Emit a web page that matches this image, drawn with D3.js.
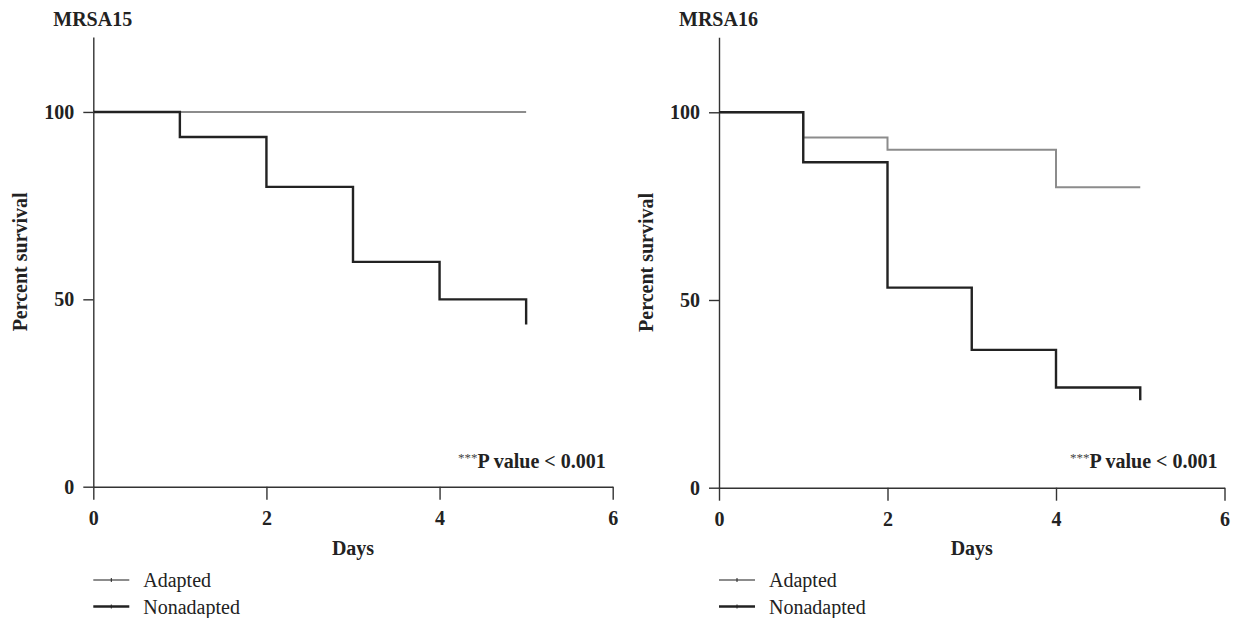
<!DOCTYPE html>
<html>
<head>
<title>Percent survival - MRSA15 / MRSA16</title>
<style>
body { margin: 0; background: #fff; }
.axis text { font-family: "Liberation Serif", "DejaVu Serif", serif; font-weight: bold; font-size: 20px; fill: #222; }
.axis path, .axis line { stroke: #333; stroke-width: 1.4; }
.title, .axisLabel { font-family: "Liberation Serif", serif; font-weight: bold; font-size: 20px; fill: #222; }
.legendText { font-family: "Liberation Serif", serif; font-size: 20px; fill: #222; }
.pval { font-family: "Liberation Serif", serif; font-weight: bold; font-size: 20px; fill: #222; }
.line { fill: none; }
</style>
<script src="https://cdnjs.cloudflare.com/ajax/libs/d3/7.8.5/d3.min.js"></script>
</head>
<body>
<svg id="chart" width="1236" height="618"></svg>
<script>

// day of each step and survival (%) after it
var days15Adapted = [0, 5];
var surv15Adapted = [100, 100];
var days15Non = [0, 1, 2, 3, 4, 5];
var surv15Non = [100, 93.3, 80, 60, 50, 43.3];

var days16Adapted = [0, 1, 2, 4, 5];
var surv16Adapted = [100, 93.3, 90, 80, 80];
var days16Non = [0, 1, 2, 3, 4, 5];
var surv16Non = [100, 86.7, 53.3, 36.7, 26.7, 23.3];

var xTicks = [0, 2, 4, 6];
var yTicks = [0, 50, 100];
var seriesNames = ['Adapted', 'Nonadapted'];
var seriesColors = ['#8c8c8c', '#222222'];

var svg = d3.select('#chart');

function zip(days, surv) {
  return days.map(function(d, i) { return {day: d, surv: surv[i]}; });
}

function drawPanel(opt) {
  var x = d3.scaleLinear().domain([0, 6]).range([opt.left, opt.right]);
  var y = d3.scaleLinear().domain([0, 120]).range([opt.bottom, opt.top]);

  var g = svg.append('g');

  g.append('g')
    .attr('class', 'axis')
    .attr('transform', 'translate(0,' + opt.bottom + ')')
    .call(d3.axisBottom(x).tickValues(xTicks).tickFormat(d3.format('d'))
      .tickSize(13).tickSizeOuter(0).tickPadding(11));

  g.append('g')
    .attr('class', 'axis')
    .attr('transform', 'translate(' + opt.left + ',0)')
    .call(d3.axisLeft(y).tickValues(yTicks).tickFormat(d3.format('d'))
      .tickSize(10).tickSizeOuter(0).tickPadding(9));

  g.append('text')
    .attr('class', 'title')
    .attr('x', opt.left - 40)
    .attr('y', 26)
    .text(opt.title);

  g.append('text')
    .attr('class', 'axisLabel')
    .attr('text-anchor', 'middle')
    .attr('transform', 'translate(' + (opt.left - 66) + ',' + ((opt.top + opt.bottom) / 2) + ') rotate(-90)')
    .text('Percent survival');

  g.append('text')
    .attr('class', 'axisLabel')
    .attr('text-anchor', 'middle')
    .attr('x', (opt.left + opt.right) / 2)
    .attr('y', 555)
    .text('Days');

  var pv = g.append('text')
    .attr('class', 'pval')
    .attr('text-anchor', 'end')
    .attr('x', opt.right - 7)
    .attr('y', 468);
  pv.append('tspan').attr('font-size', '13px').attr('font-weight', 'normal').attr('fill', '#444').attr('dy', -6).text('***');
  pv.append('tspan').attr('dy', 6).text('P value < 0.001');

  var line = d3.line()
    .curve(d3.curveStepAfter)
    .x(function(d) { return x(d.day); })
    .y(function(d) { return y(d.surv); });

  opt.series.forEach(function(s, i) {
    g.append('path')
      .datum(s)
      .attr('class', 'line')
      .style('stroke', seriesColors[i])
      .style('stroke-width', i == 0 ? 2 : 2.4)
      .attr('d', line);
  });

  // legend
  seriesNames.forEach(function(name, i) {
    var ly = 580 + i * 26.5;
    g.append('line')
      .attr('x1', opt.left).attr('x2', opt.left + 36)
      .attr('y1', ly).attr('y2', ly)
      .style('stroke', seriesColors[i])
      .style('stroke-width', i == 0 ? 2 : 2.4);
    g.append('line')
      .attr('x1', opt.left + 18).attr('x2', opt.left + 18)
      .attr('y1', ly - 2).attr('y2', ly + 2)
      .style('stroke', '#222')
      .style('stroke-width', 1);
    g.append('text')
      .attr('class', 'legendText')
      .attr('x', opt.left + 50)
      .attr('y', ly + 7)
      .text(name);
  });
}

drawPanel({
  title: 'MRSA15', left: 93.3, right: 612.7, top: 37, bottom: 486.7,
  series: [zip(days15Adapted, surv15Adapted), zip(days15Non, surv15Non)]
});

drawPanel({
  title: 'MRSA16', left: 719, right: 1224.5, top: 37.2, bottom: 487.7,
  series: [zip(days16Adapted, surv16Adapted), zip(days16Non, surv16Non)]
});

</script>
</body>
</html>
